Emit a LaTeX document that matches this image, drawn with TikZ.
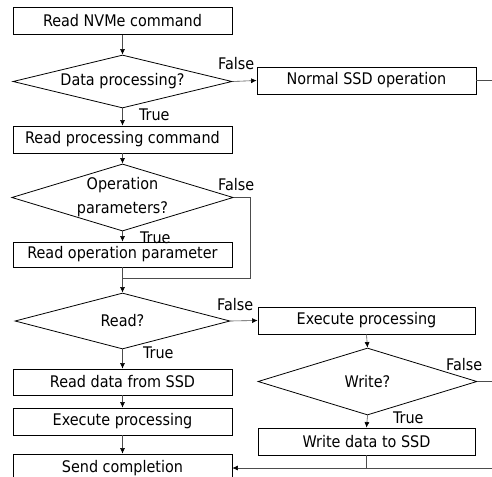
\documentclass[tikz,border=0pt]{standalone}
\usepackage{fontspec}
\setmainfont{DejaVu Sans Condensed}
\usetikzlibrary{shapes.geometric,arrows.meta}
\begin{document}
\begin{tikzpicture}[x=1pt,y=-1pt,
  every node/.style={font=\fontsize{16}{19}\selectfont},
  box/.style={draw=black,line width=0.8pt,rectangle,minimum width=219pt,minimum height=27pt,inner sep=0pt},
  dec/.style={draw=black,line width=0.8pt,diamond,inner sep=0pt,align=center},
  conn/.style={draw=black!70,line width=0.6pt},
  arr/.style={conn,-{Latex[length=5.5pt,width=5pt,color=black]}},
  lbl/.style={inner sep=0pt,anchor=west}]
\useasboundingbox (0,0) rectangle (492,476);
% nodes
\node[box] (b1) at (122.5,21) {Read NVMe command};
\node[dec,shape aspect=4.1,minimum width=219pt,minimum height=53pt] (d1) at (122.5,81.5) {Data processing?};
\node[box] (nssd) at (366.5,80.5) {Normal SSD operation};
\node[box] (b2) at (122.5,139.5) {Read processing command};
\node[dec,shape aspect=3.3,minimum width=215pt,minimum height=65pt] (d2) at (122.5,197.5) {Operation\\[5pt]parameters?};
\node[box,minimum height=25pt] (b3) at (122.5,254.5) {Read operation parameter};
\node[dec,shape aspect=3.8,minimum width=215pt,minimum height=56pt] (d3) at (122.5,321) {Read?};
\node[box,minimum width=217pt] (ep2) at (366.5,320.5) {Execute processing};
\node[box,minimum height=26pt] (rd) at (122.5,382) {Read data from SSD};
\node[box] (ep1) at (122.5,421.5) {Execute processing};
\node[box,minimum height=28pt] (sc) at (122.5,468) {Send completion};
\node[dec,shape aspect=3.3,minimum width=219pt,minimum height=67pt] (d4) at (367.5,381.5) {Write?};
\node[box,minimum width=217pt] (wd) at (366.5,441.5) {Write data to SSD};
% coordinates
\coordinate (r1) at (492,80.5);
\coordinate (k2) at (250,197.5);
\coordinate (j) at (122.5,278);
\coordinate (r4) at (492,381.5);
\coordinate (m) at (366.5,468);
\coordinate (r5) at (492,468);
% labels
\node[lbl] (f1) at (218,63.5) {False};
\node[lbl] (t1) at (139,115) {True};
\node[lbl] (f2) at (218,185) {False};
\node[lbl] (t2) at (140,238) {True};
\node[lbl] (f3) at (217,305) {False};
\node[lbl] (t3) at (143,353) {True};
\node[lbl] (f4) at (446,365) {False};
\node[lbl] (t4) at (393,418) {True};
% connectors
\draw[arr] (b1) -- (d1);
\draw[arr] (d1.east) -- (nssd.west);
\draw[conn] (nssd.east) -- (r1);
\draw[arr] (d1.south) -- (b2.north);
\draw[arr] (b2.south) -- (d2.north);
\draw[arr] (d2.south) -- (b3.north);
\draw[conn] (d2.east) -- (k2) |- (j);
\draw[arr] (b3.south) -- (d3.north);
\draw[arr] (d3.east) -- (ep2.west);
\draw[arr] (d3.south) -- (rd.north);
\draw[arr] (rd.south) -- (ep1.north);
\draw[arr] (ep1.south) -- (sc.north);
\draw[arr] (ep2.south) -- (d4.north);
\draw[conn] (d4.east) -- (r4);
\draw[arr] (d4.south) -- (wd.north);
\draw[conn] (wd.south) -- (m);
\draw[arr] (r5) -- (sc.east);
\end{tikzpicture}
\end{document}
